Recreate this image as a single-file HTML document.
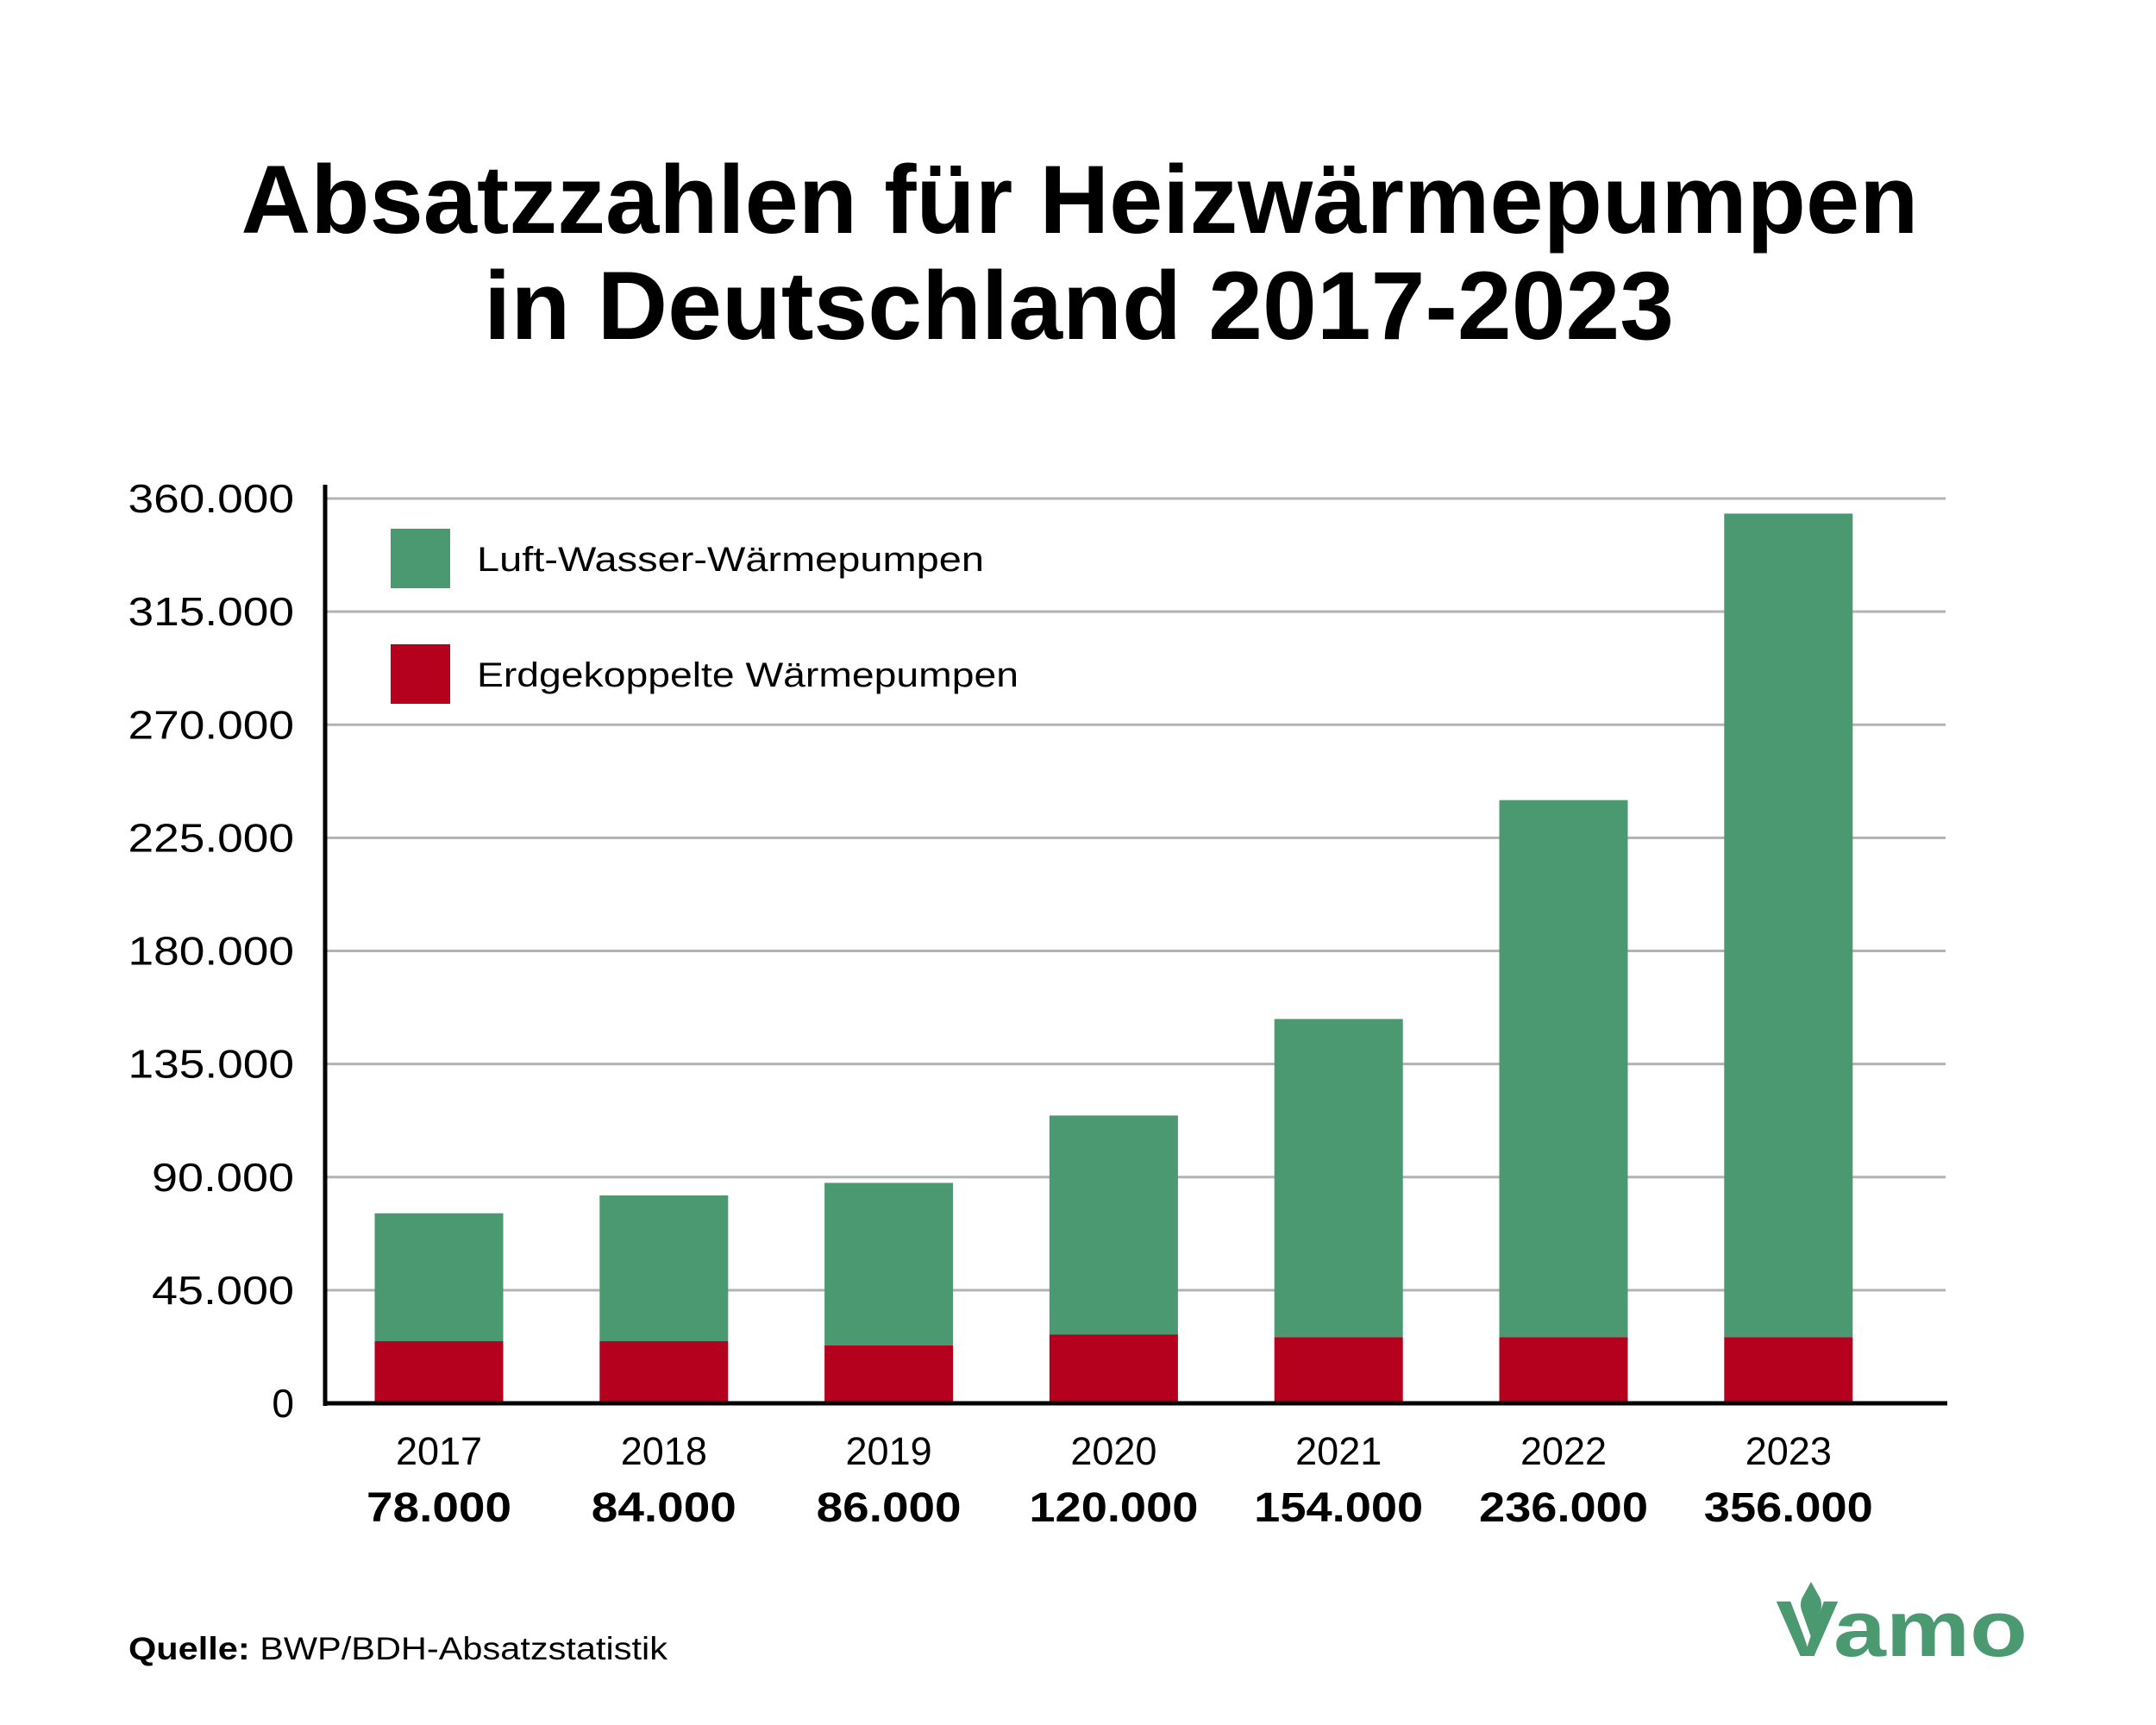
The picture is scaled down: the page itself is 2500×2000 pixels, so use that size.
<!DOCTYPE html>
<html><head><meta charset="utf-8"><style>
html,body{margin:0;padding:0;background:#fff}
svg{display:block;font-family:"Liberation Sans",sans-serif}
</style></head><body>
<svg id="chart" width="2500" height="2000" viewBox="0 0 2500 2000">
<text x="1252" y="270" font-size="112" font-weight="bold" text-anchor="middle" textLength="1945" lengthAdjust="spacingAndGlyphs">Absatzzahlen für Heizwärmepumpen</text>
<text x="1251" y="393" font-size="112" font-weight="bold" text-anchor="middle" textLength="1380" lengthAdjust="spacingAndGlyphs">in Deutschland 2017-2023</text>
<g id="grid"></g>
<g id="yticks"></g>
<g id="bars"></g>
<g id="xlabels"></g>
<line x1="377" y1="562" x2="377" y2="1630" stroke="#000" stroke-width="5"/>
<line x1="375" y1="1627" x2="2258" y2="1627" stroke="#000" stroke-width="5"/>
<g>
<rect x="453" y="613" width="69" height="69" fill="#4a9970"/>
<text x="553" y="662" font-size="40" textLength="588" lengthAdjust="spacingAndGlyphs">Luft-Wasser-Wärmepumpen</text>
<rect x="453" y="747" width="69" height="69" fill="#b5001e"/>
<text x="553" y="796" font-size="40" textLength="628" lengthAdjust="spacingAndGlyphs">Erdgekoppelte Wärmepumpen</text>
</g>
<text x="149" y="1924" font-size="37" textLength="625" lengthAdjust="spacingAndGlyphs"><tspan font-weight="bold">Quelle:</tspan> BWP/BDH-Absatzstatistik</text>
<g>
<path d="M2090 1852 L2100 1834 L2110 1852 Q2114 1860 2110 1870 L2100 1898 L2090 1870 Q2086 1860 2090 1852 Z" fill="#4a9970"/>
<text x="2059" y="1920" font-size="92" font-weight="bold" fill="#4a9970" textLength="292" lengthAdjust="spacingAndGlyphs">Vamo</text>
</g>
</svg>
<script>
const years = ["2017","2018","2019","2020","2021","2022","2023"];
const totalsLabel = ["78.000","84.000","86.000","120.000","154.000","236.000","356.000"];
const groundSource = [24700,24700,23000,27400,26300,26300,26300];
const barTotals = [75600,82700,87700,114500,152900,240000,354000];
const yTicks = [0,45000,90000,135000,180000,225000,270000,315000,360000];
const yTickLabels = ["0","45.000","90.000","135.000","180.000","225.000","270.000","315.000","360.000"];

const NS="http://www.w3.org/2000/svg";
const y0=1627, yTop=578, yMax=360000;
function yScale(v){return y0-(v/yMax)*(y0-yTop);}
const xStart=509, xStep=260.8, bw=149;
function xScale(i){return xStart+i*xStep;}
function mk(tag,attrs,parent){const e=document.createElementNS(NS,tag);for(const k in attrs)e.setAttribute(k,attrs[k]);parent.appendChild(e);return e;}
const grid=document.getElementById('grid'),yt=document.getElementById('yticks'),bars=document.getElementById('bars'),xl=document.getElementById('xlabels');
yTicks.forEach((v,i)=>{
  if(v>0){const l=mk('line',{x1:379,x2:2256,y1:yScale(v),y2:yScale(v),stroke:'#b3b3b3','stroke-width':3},grid);
  
  }
  const attrs={x:341,y:yScale(v)+16,'font-size':46,'text-anchor':'end'};
  if(yTickLabels[i].length>1){attrs.textLength=yTickLabels[i].length*27.5;attrs.lengthAdjust='spacingAndGlyphs';}
  const t=mk('text',attrs,yt);
  t.textContent=yTickLabels[i];
  
  
});
years.forEach((yr,i)=>{
  const cx=xScale(i);
  const g=mk('rect',{x:cx-bw/2,y:yScale(barTotals[i]),width:bw,height:yScale(groundSource[i])-yScale(barTotals[i]),fill:'#4a9970'},bars);
  
  
  const r=mk('rect',{x:cx-bw/2,y:yScale(groundSource[i]),width:bw,height:y0-yScale(groundSource[i]),fill:'#b5001e'},bars);
  
  
  const t=mk('text',{x:cx,y:1698,'font-size':45,'text-anchor':'middle'},xl);
  t.textContent=yr;
  
  
  const s=mk('text',{x:cx,y:1764,'font-size':48,'font-weight':'bold','text-anchor':'middle',textLength:totalsLabel[i].length*28,lengthAdjust:'spacingAndGlyphs'},xl);
  s.textContent=totalsLabel[i];
  
  
});
</script>
</body></html>
